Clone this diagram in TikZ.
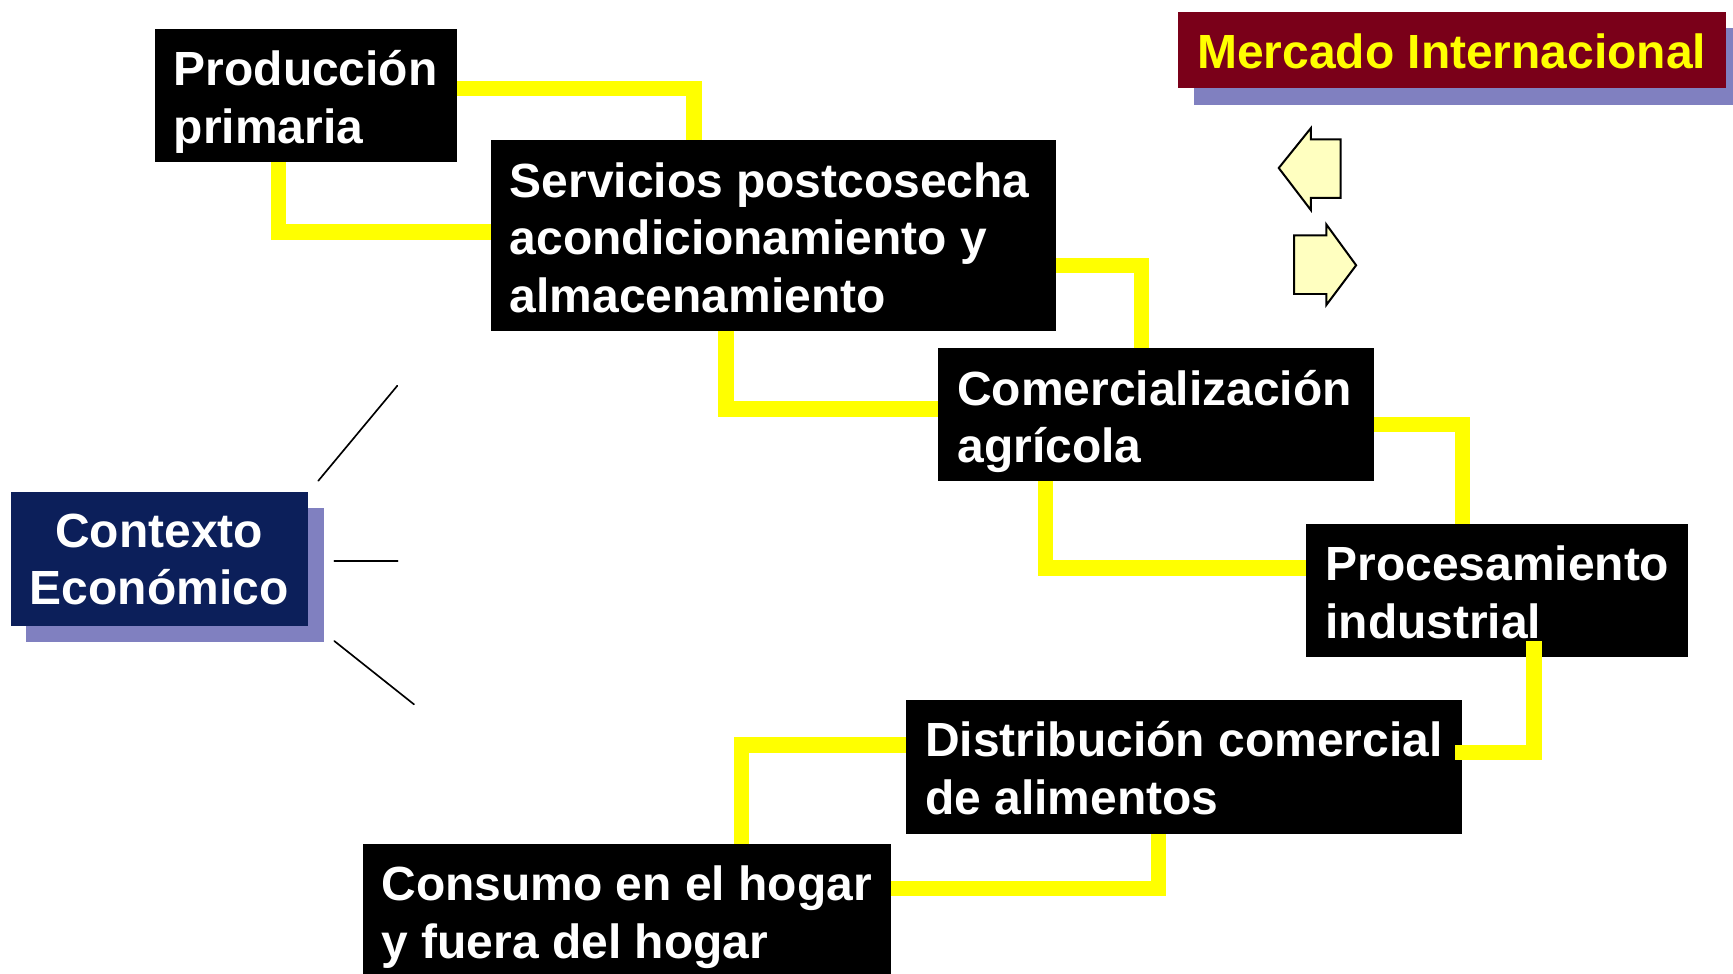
\documentclass[tikz,border=0pt]{standalone}
\usepackage{fontspec}
\setmainfont{Liberation Sans}
\usetikzlibrary{calc}
\definecolor{ylw}{HTML}{FFFF00}
\definecolor{maroonc}{HTML}{7A0019}
\definecolor{shadowc}{HTML}{8080C0}
\definecolor{navyc}{HTML}{0C1F5A}
\definecolor{palec}{HTML}{FFFFC0}
\newcommand\twoline[2]{\vtop{\baselineskip=52pt\hbox{#1}\hbox{#2}}}
\newcommand\twolinec[2]{\vtop{\baselineskip=52pt\halign{\hfil##\hfil\cr#1\cr#2\cr}}}
\begin{document}
\begin{tikzpicture}[x=1pt,y=-1pt,
  blk/.style={fill=black, draw=none, inner sep=0pt, anchor=north west},
  conn/.style={draw=ylw, line width=14pt, line join=miter},
  txt/.style={text=white, font=\fontsize{43.4}{52}\selectfont\bfseries, inner sep=0pt, anchor=base west},
  thinline/.style={line width=1.5pt, line cap=round},
  arr/.style={fill=palec, draw=black, line width=1.8pt, line join=miter}]
\useasboundingbox (0,0) rectangle (1568,881);

% boxes (named), filled later on top of connectors
\node[blk, minimum width=273pt, minimum height=120pt, fill=none] (prod) at (140,26) {};
\node[blk, minimum width=511pt, minimum height=172pt, fill=none] (serv) at (444,127) {};
\node[blk, minimum width=394pt, minimum height=120pt, fill=none] (comm) at (849,315) {};
\node[blk, minimum width=345pt, minimum height=120pt, fill=none] (proc) at (1182,474) {};
\node[blk, minimum width=502pt, minimum height=121pt, fill=none] (dist) at (820,633) {};
\node[blk, minimum width=478pt, minimum height=130pt, fill=none] (cons) at (328,764) {};

% connectors under boxes
\draw[conn] (prod.east |- 0,80) -| (serv.north -| 628,0);
\draw[conn] (prod.south -| 252,0) |- (serv.west |- 0,210);
\draw[conn] (serv.east |- 0,240) -| (comm.north -| 1033,0);
\draw[conn] (serv.south -| 657,0) |- (comm.west |- 0,370);
\draw[conn] (comm.east |- 0,384) -| (proc.north -| 1323,0);
\draw[conn] (comm.south -| 946,0) |- (proc.west |- 0,514);
\draw[conn] (dist.west |- 0,674) -| (cons.north -| 671,0);
\draw[conn] (dist.south -| 1048,0) |- (cons.east |- 0,804);

% black boxes
\foreach \b in {prod,serv,comm,proc,dist,cons}
  \fill[black] (\b.north west) rectangle (\b.south east);

% texts
\node[txt] (prodt) at (157,77.5) {\twoline{Producción}{primaria}};
\node[txt] (servt) at (461,178.5) {\vtop{\baselineskip=52pt\hbox{Servicios postcosecha}\hbox{acondicionamiento y}\hbox{almacenamiento}}};
\node[txt] (commt) at (866,366.5) {\twoline{Comercialización}{agrícola}};
\node[txt] (proct) at (1199,525.5) {\twoline{Procesamiento}{industrial}};
\node[txt] (distt) at (837,684.5) {\twoline{Distribución comercial}{de alimentos}};
\node[txt] (const) at (345,815) {\twoline{Consumo en el hogar}{y fuera del hogar}};

% connector drawn on top
\draw[conn] ($(proc.south -| 1388,0)+(0,-14)$) |- ($(dist.east |- 0,681)+(-6,0)$);

% Mercado Internacional
\fill[shadowc] (1080,25) rectangle (1568,95);
\node[blk, fill=maroonc, minimum width=495pt, minimum height=69pt] (merc) at (1066,10.6) {};
\node[txt, text=ylw, anchor=base] (merct) at (1313.5,62.4) {Mercado Internacional};

% arrows
\draw[arr] (1157,152) -- (1186,116) -- (1186,126) -- (1213,126) -- (1213,179) -- (1186,179) -- (1186,190) -- cycle;
\draw[arr] (1171,213) -- (1200,213) -- (1200,203) -- (1227,240) -- (1200,276) -- (1200,266) -- (1171,266) -- cycle;

% Contexto Economico
\fill[shadowc] (23.5,460) rectangle (293,580.6);
\node[blk, fill=navyc, minimum width=268.4pt, minimum height=121pt] (ctx) at (10,445) {};
\node[txt, anchor=base] (ctxt) at (144,495) {\twolinec{Contexto}{Económico}};

\coordinate (l1a) at (288,435); \coordinate (l1b) at (359.5,349);
\coordinate (l2a) at (302.5,507.3); \coordinate (l2b) at (359.8,507.3);
\coordinate (l3a) at (302.5,580); \coordinate (l3b) at (374.6,637.3);
\draw[thinline] (l1a) -- (l1b);
\draw[thinline] (l2a) -- (l2b);
\draw[thinline] (l3a) -- (l3b);
\end{tikzpicture}
\end{document}
